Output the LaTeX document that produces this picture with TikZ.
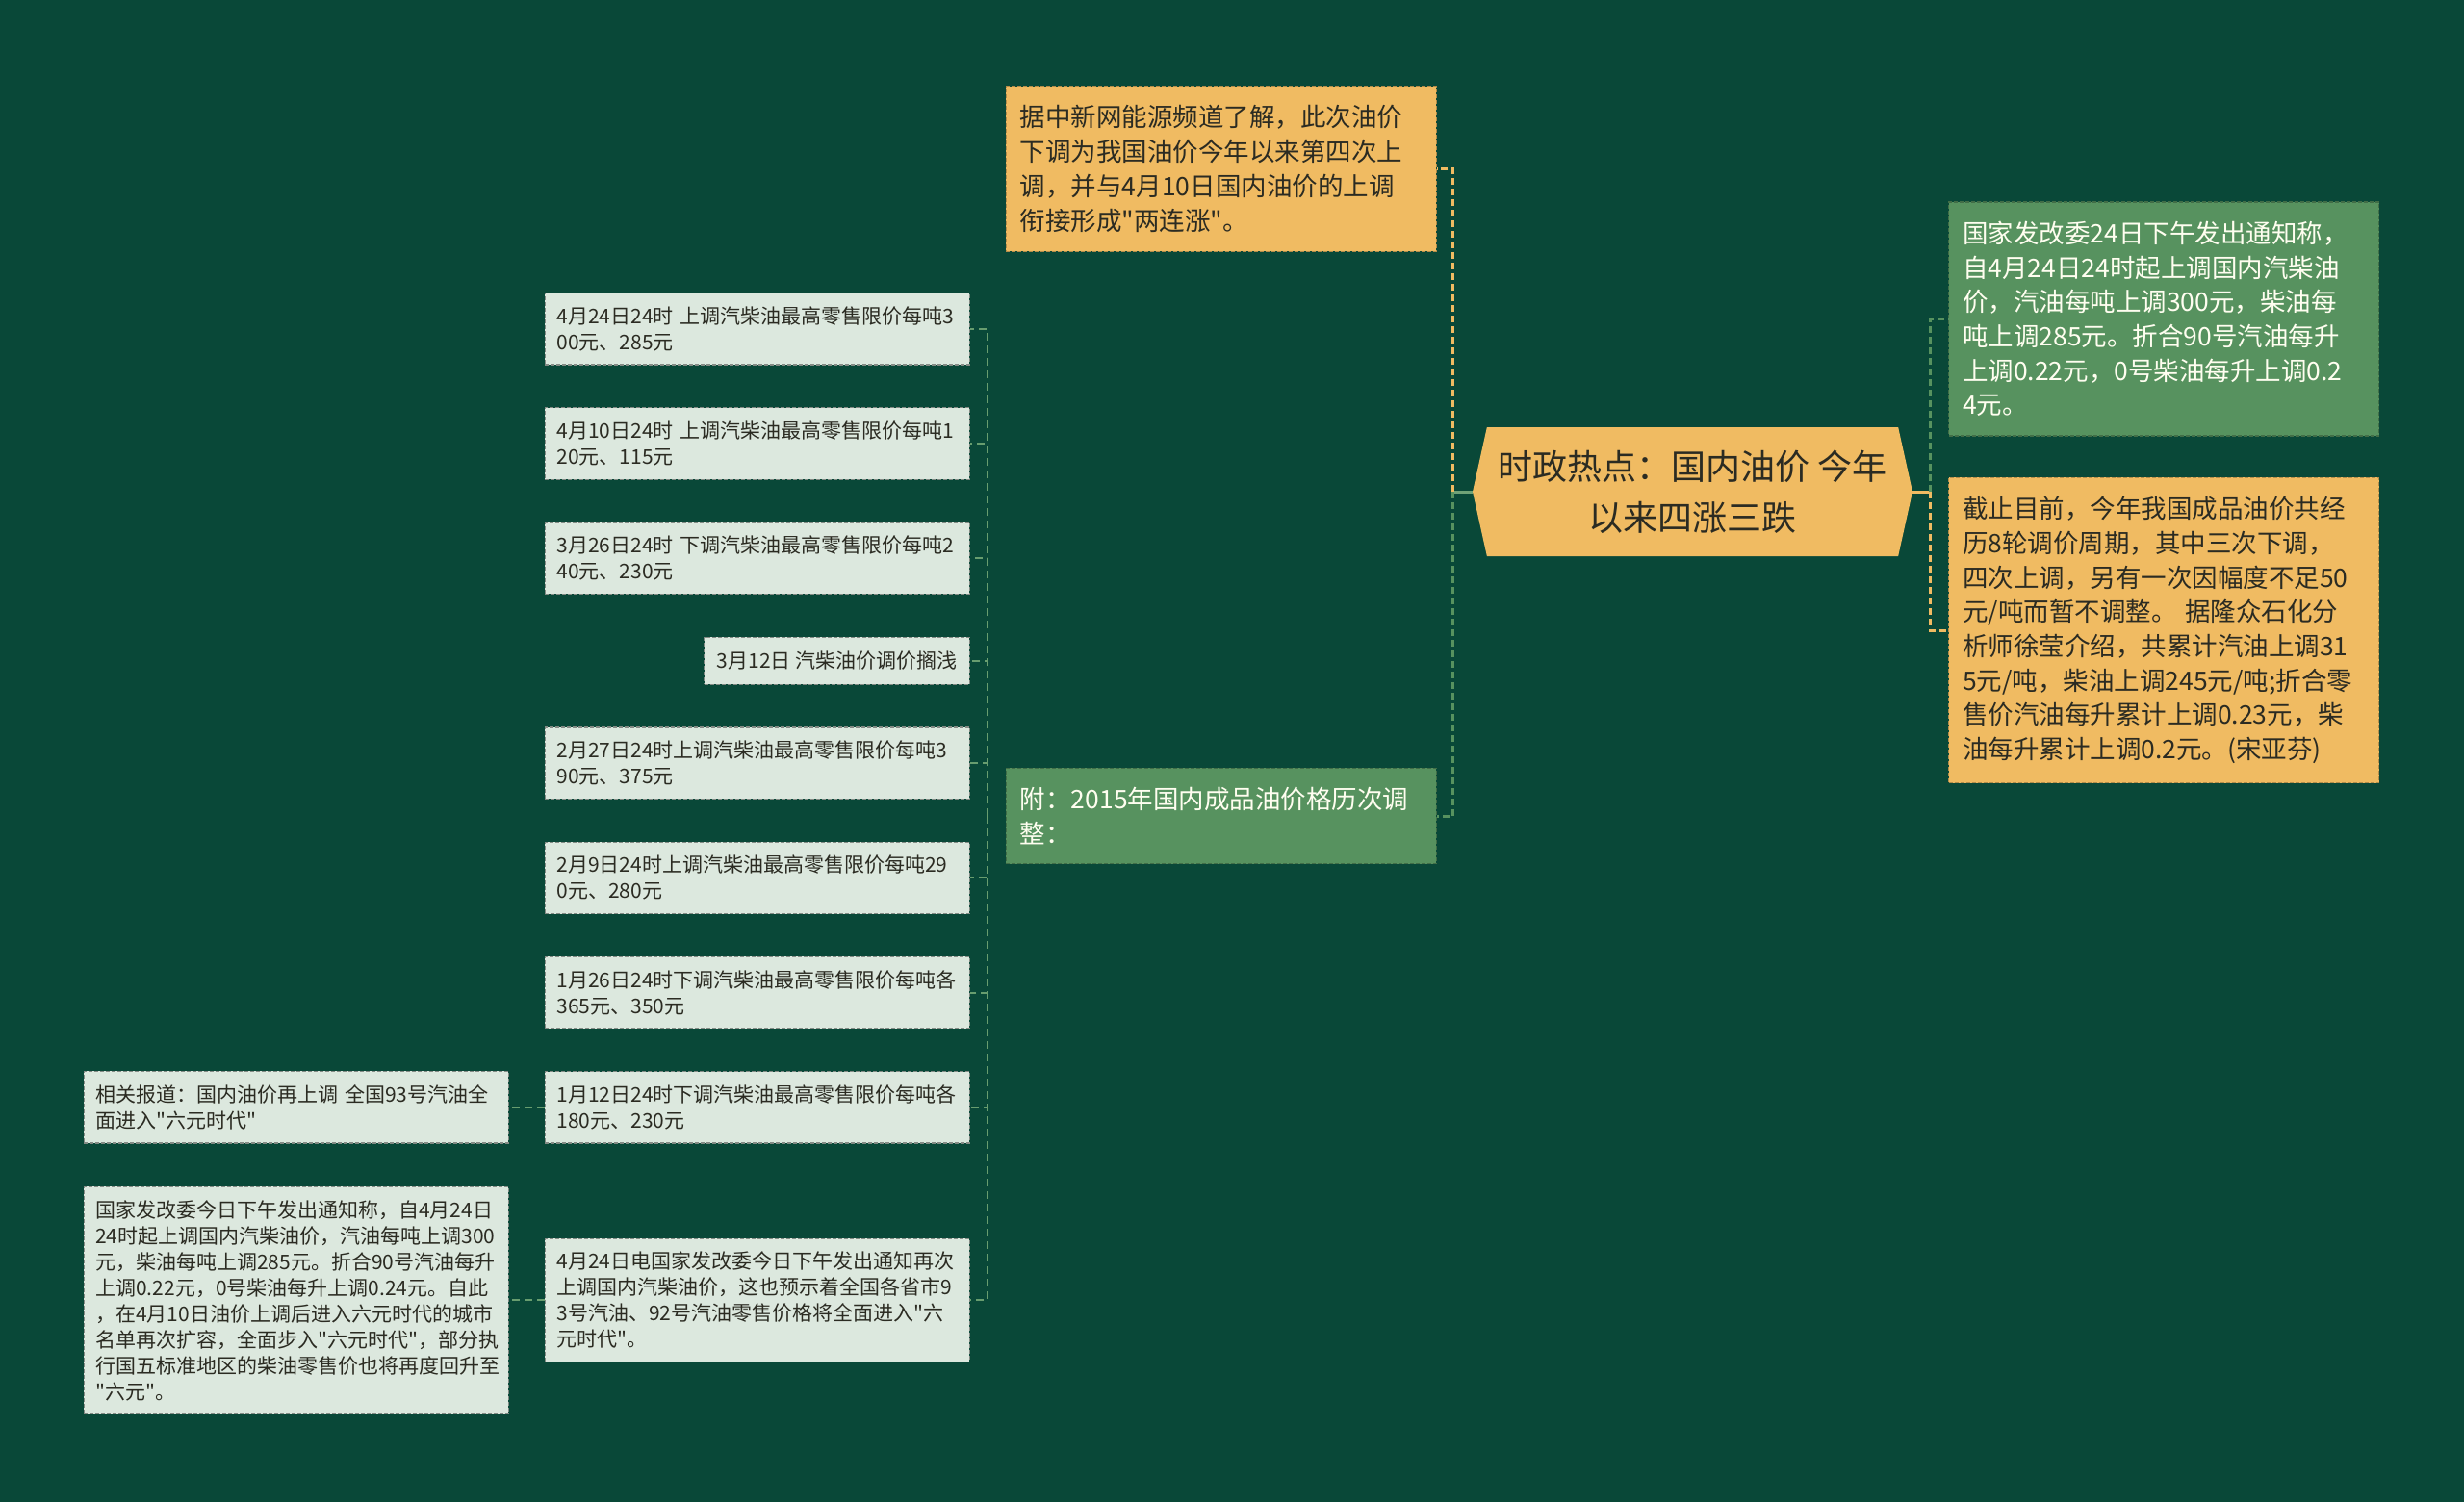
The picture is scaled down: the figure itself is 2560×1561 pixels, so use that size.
\documentclass[tikz,border=0pt]{standalone}
\usepackage{fontspec}
\newfontfamily\cjk{Noto Sans CJK SC}
\usepackage{xcolor}
\usepackage{tikz}
\usetikzlibrary{positioning, shapes.symbols}

\definecolor{bgdark}{HTML}{094838}
\definecolor{sand}{HTML}{F0BB62}
\definecolor{grn}{HTML}{57925F}
\definecolor{pale}{HTML}{DCE8DE}
\definecolor{ink}{HTML}{2B2B22}

\tikzstyle{hub}      = [signal, signal to=west and east, signal pointer angle=155, minimum width=457pt, minimum height=134pt, inner sep=0pt, fill=sand, text=ink, align=center, font=\cjk\fontsize{36}{53}\selectfont]
\tikzstyle{sandbox}  = [rectangle, fill=sand, draw=sand!75!black, dash pattern=on 4pt off 2pt, line width=1.2pt, text=ink, text width=418pt, align=left, inner xsep=14.5pt, inner ysep=20pt, font=\cjk\fontsize{26.5}{35.7}\selectfont]
\tikzstyle{greenbox} = [sandbox, fill=grn, draw=grn!75!black, text=white!94!yellow]
\tikzstyle{leafbox}  = [rectangle, fill=pale, draw=pale!60!black, dash pattern=on 4pt off 2pt, line width=1.2pt, text=ink, text width=417pt, align=left, inner xsep=12pt, inner ysep=14pt, font=\cjk\fontsize{21}{27}\selectfont]
\tikzstyle{sandlink} = [draw=sand, line width=3pt, dash pattern=on 7pt off 4pt]
\tikzstyle{greenlink}= [draw=grn, line width=3pt, dash pattern=on 7pt off 4pt]
\tikzstyle{leaflink} = [draw=grn!90!white, line width=2pt, dash pattern=on 8pt off 5pt]

\begin{document}
\begin{tikzpicture}[x=1pt, y=-1pt]

\useasboundingbox (0,0) rectangle (2560,1561);
\fill [bgdark] (0,0) rectangle (2560,1561);

\node (hub) [hub] at (1758.5,511) {时政热点：国内油价 今年\\以来四涨三跌};

% first level
\node (tm) [sandbox, anchor=east] at (1493,175.5) {据中新网能源频道了解，此次油价\\下调为我国油价今年以来第四次上\\调，并与4月10日国内油价的上调\\衔接形成"两连涨"。};
\node (fu) [greenbox, anchor=east] at (1493,848) {附：2015年国内成品油价格历次调\\整：};
\node (rg) [greenbox, anchor=west] at (2024,331.5) {国家发改委24日下午发出通知称，\\自4月24日24时起上调国内汽柴油\\价，汽油每吨上调300元，柴油每\\吨上调285元。折合90号汽油每升\\上调0.22元，0号柴油每升上调0.2\\4元。};
\node (ro) [sandbox, anchor=west] at (2024,655) {截止目前，今年我国成品油价共经\\历8轮调价周期，其中三次下调，\\四次上调，另有一次因幅度不足50\\元/吨而暂不调整。 据隆众石化分\\析师徐莹介绍，共累计汽油上调31\\5元/吨，柴油上调245元/吨;折合零\\售价汽油每升累计上调0.23元，柴\\油每升累计上调0.2元。(宋亚芬)};

% price history list
\node (b1) [leafbox, anchor=north east] at (1008,304) {4月24日24时 上调汽柴油最高零售限价每吨3\\00元、285元};
\node (b2) [leafbox, below=43.6pt of b1.south east, anchor=north east] {4月10日24时 上调汽柴油最高零售限价每吨1\\20元、115元};
\node (b3) [leafbox, below=43.6pt of b2.south east, anchor=north east] {3月26日24时 下调汽柴油最高零售限价每吨2\\40元、230元};
\node (b4) [leafbox, text width={}, inner xsep=13pt, minimum height=49pt, below=43.6pt of b3.south east, anchor=north east] {3月12日 汽柴油价调价搁浅};
\node (b5) [leafbox, below=43.6pt of b4.south east, anchor=north east] {2月27日24时上调汽柴油最高零售限价每吨3\\90元、375元};
\node (b6) [leafbox, below=43.6pt of b5.south east, anchor=north east] {2月9日24时上调汽柴油最高零售限价每吨29\\0元、280元};
\node (b7) [leafbox, below=43.6pt of b6.south east, anchor=north east] {1月26日24时下调汽柴油最高零售限价每吨各\\365元、350元};
\node (b8) [leafbox, below=43.6pt of b7.south east, anchor=north east] {1月12日24时下调汽柴油最高零售限价每吨各\\180元、230元};
\node (b9) [leafbox, below=98pt of b8.south east, anchor=north east] {4月24日电国家发改委今日下午发出通知再次\\上调国内汽柴油价，这也预示着全国各省市9\\3号汽油、92号汽油零售价格将全面进入"六\\元时代"。};

\node (b10) [leafbox, left=37pt of b8] {相关报道：国内油价再上调 全国93号汽油全\\面进入"六元时代"};
\node (b11) [leafbox, left=37pt of b9] {国家发改委今日下午发出通知称，自4月24日\\24时起上调国内汽柴油价，汽油每吨上调300\\元，柴油每吨上调285元。折合90号汽油每升\\上调0.22元，0号柴油每升上调0.24元。自此\\，在4月10日油价上调后进入六元时代的城市\\名单再次扩容，全面步入"六元时代"，部分执\\行国五标准地区的柴油零售价也将再度回升至\\"六元"。};

% hub links
\coordinate (lj) at ([xshift=-20pt]hub.west);
\coordinate (rj) at ([xshift=18pt]hub.east);
\draw [grn!85!white, line width=3pt] (hub.west) -- (lj);
\draw [sandlink] (lj) |- (tm.east);
\draw [greenlink] (lj) |- (fu.east);
\draw [sand, line width=3pt] (hub.east) -- (rj);
\draw [greenlink] (rj) |- (rg.west);
\draw [sandlink] (rj) |- (ro.west);

% list links
\coordinate (fj) at ([xshift=-19pt]fu.west);
\foreach \i in {1,...,9}
  \draw [leaflink] (fj) |- (b\i.east);
\draw [leaflink] (b8.west) -- (b10.east);
\draw [leaflink] (b9.west) -- (b11.east);

\end{tikzpicture}
\end{document}
